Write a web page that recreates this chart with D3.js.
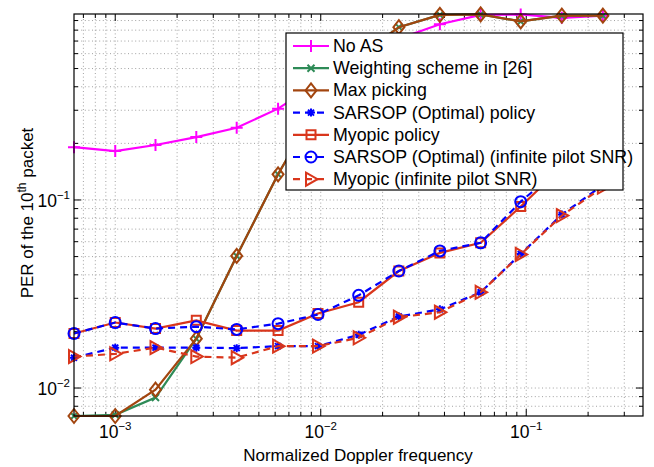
<!DOCTYPE html>
<html>
<head>
<meta charset="utf-8">
<script src="https://cdn.jsdelivr.net/npm/d3@7"></script>
<style>
  body { margin: 0; background: #fff; }
  text { font-family: "Liberation Sans", Arial, sans-serif; fill: #000; }
</style>
</head>
<body>
<div id="svg-container"></div>
<script>
// normalized Doppler frequency (x) and PER of the 10th packet for each scheme
var doppler = [0.00063, 0.001, 0.00157, 0.00248, 0.0039, 0.0062, 0.0097, 0.0153, 0.024, 0.038, 0.06, 0.094, 0.149, 0.236];

var noAS        = [0.191, 0.182, 0.196, 0.216, 0.242, 0.306, 0.42, 0.56, 0.72, 0.86, 0.965, 0.97, 0.93, 0.955];
var weighting   = [0.0071, 0.0072, 0.0089, 0.0183, 0.0504, 0.137, 0.32, 0.58, 0.83, 0.965, 0.97, 0.89, 0.955, 0.955];
var maxPicking  = [0.0071, 0.0071, 0.0098, 0.0183, 0.0504, 0.137, 0.32, 0.58, 0.83, 0.965, 0.97, 0.89, 0.955, 0.955];
var sarsop      = [0.0145, 0.0164, 0.0164, 0.0164, 0.0163, 0.0167, 0.0167, 0.0192, 0.024, 0.0262, 0.0323, 0.0516, 0.0836, 0.12];
var myopic      = [0.0195, 0.0223, 0.0207, 0.0229, 0.0202, 0.0202, 0.0249, 0.0286, 0.0419, 0.0523, 0.0592, 0.0923, 0.15, 0.21];
var sarsopInf   = [0.0195, 0.0223, 0.0207, 0.0212, 0.0205, 0.022, 0.0246, 0.0311, 0.0419, 0.0536, 0.0592, 0.098, 0.15, 0.21];
var myopicInf   = [0.0147, 0.0152, 0.0164, 0.0147, 0.0145, 0.0167, 0.0167, 0.0185, 0.0238, 0.0253, 0.0323, 0.0513, 0.0826, 0.117];

var seriesNames = ["No AS", "Weighting scheme in [26]", "Max picking", "SARSOP (Optimal) policy",
                   "Myopic policy", "SARSOP (Optimal) (infinite pilot SNR)", "Myopic (infinite pilot SNR)"];
var seriesValues = [noAS, weighting, maxPicking, sarsop, myopic, sarsopInf, myopicInf];

var xMajorTicks = [1e-3, 1e-2, 1e-1];
var xTickExp = ["\u22123", "\u22122", "\u22121"];
var yMajorTicks = [1e-2, 1e-1];
var yTickExp = ["\u22122", "\u22121"];

// look of each series (same order as seriesNames)
var styles = [
  {color: "#ff00ff", dash: null,  marker: "plus"},
  {color: "#2e8b57", dash: null,  marker: "cross"},
  {color: "#a2450f", dash: null,  marker: "diamond"},
  {color: "#0000ff", dash: "7,5", marker: "star"},
  {color: "#d9361c", dash: null,  marker: "square"},
  {color: "#0000ff", dash: "7,5", marker: "circle"},
  {color: "#d9361c", dash: "7,5", marker: "triangle"}
];

const W = 654, H = 467;
const margin = {top: 14, right: 11, bottom: 51, left: 74};

var svg = d3.select("#svg-container")
    .append("svg")
    .attr("width", W)
    .attr("height", H);

var x = d3.scaleLog().domain([0.00063, 0.37]).range([margin.left, W - margin.right]);
var y = d3.scaleLog().domain([0.0071, 0.975]).range([H - margin.bottom, margin.top]);

var x0 = margin.left, x1 = W - margin.right, y0 = H - margin.bottom, y1 = margin.top;

function minorTicks(scale) {
  var d = scale.domain(), out = [];
  for (var p = -5; p <= 1; p++) {
    for (var k = 1; k <= 9; k++) {
      var v = k * Math.pow(10, p);
      if (v > d[0] && v < d[1]) out.push(v);
    }
  }
  return out;
}
var xAll = minorTicks(x), yAll = minorTicks(y);

// dotted grid
var grid = svg.append("g").attr("stroke", "#8a8a8a").attr("stroke-width", 0.8).attr("stroke-dasharray", "1,2.6");
grid.selectAll(".gx").data(xAll).enter().append("line")
    .attr("x1", d => x(d)).attr("x2", d => x(d)).attr("y1", y0).attr("y2", y1);
grid.selectAll(".gy").data(yAll).enter().append("line")
    .attr("y1", d => y(d)).attr("y2", d => y(d)).attr("x1", x0).attr("x2", x1);

// ticks (inside, all four sides)
var ticks = svg.append("g").attr("stroke", "#000").attr("stroke-width", 1);
xAll.forEach(function(v) {
  var len = xMajorTicks.indexOf(v) >= 0 ? 7 : 4;
  ticks.append("line").attr("x1", x(v)).attr("x2", x(v)).attr("y1", y0).attr("y2", y0 - len);
  ticks.append("line").attr("x1", x(v)).attr("x2", x(v)).attr("y1", y1).attr("y2", y1 + len);
});
yAll.forEach(function(v) {
  var len = yMajorTicks.indexOf(v) >= 0 ? 7 : 4;
  ticks.append("line").attr("y1", y(v)).attr("y2", y(v)).attr("x1", x0).attr("x2", x0 + len);
  ticks.append("line").attr("y1", y(v)).attr("y2", y(v)).attr("x1", x1).attr("x2", x1 - len);
});

// tick labels
xMajorTicks.forEach(function(v, i) {
  var t = svg.append("text").attr("x", x(v)).attr("y", 438).attr("text-anchor", "middle").style("font-size", "17.5px");
  t.append("tspan").text("10");
  t.append("tspan").attr("dy", -8).style("font-size", "11.5px").text(xTickExp[i]);
});
yMajorTicks.forEach(function(v, i) {
  var t = svg.append("text").attr("x", 70).attr("y", y(v) + 7).attr("text-anchor", "end").style("font-size", "17.5px");
  t.append("tspan").text("10");
  t.append("tspan").attr("dy", -8).style("font-size", "11.5px").text(yTickExp[i]);
});

// axis titles
svg.append("text").attr("x", 358).attr("y", 461).attr("text-anchor", "middle")
    .style("font-size", "17px").text("Normalized Doppler frequency");
var yl = svg.append("text").attr("transform", "translate(33,213) rotate(-90)")
    .attr("text-anchor", "middle").style("font-size", "17px");
yl.append("tspan").text("PER of the 10");
yl.append("tspan").attr("dy", -7).style("font-size", "12px").text("th");
yl.append("tspan").attr("dy", 7).text(" packet");

function markerPath(type) {
  switch (type) {
    case "plus": return "M-6,0L6,0M0,-6L0,6";
    case "cross": return "M-3.5,-3.5L3.5,3.5M-3.5,3.5L3.5,-3.5";
    case "diamond": return "M0,-7L5.5,0L0,7L-5.5,0Z";
    case "star": return "M-4,0L4,0M0,-4L0,4M-3,-3L3,3M-3,3L3,-3";
    case "square": return "M-4.5,-4.5L4.5,-4.5L4.5,4.5L-4.5,4.5Z";
    case "circle": return "M5.5,0A5.5,5.5 0 1,1 -5.5,0A5.5,5.5 0 1,1 5.5,0Z";
    case "triangle": return "M-5,-6.5L6.5,0L-5,6.5Z";
  }
}

var line = d3.line().x(d => x(d[0])).y(d => y(d[1]));

seriesValues.forEach(function(vals, i) {
  var st = styles[i];
  var pts = doppler.map((d, j) => [d, vals[j]]);
  var g = svg.append("g");
  g.append("path").datum(pts)
      .attr("d", line)
      .attr("fill", "none")
      .attr("stroke", st.color)
      .attr("stroke-width", 2.2)
      .attr("stroke-dasharray", st.dash);
  g.selectAll(".m").data(pts).enter().append("path")
      .attr("transform", d => "translate(" + x(d[0]) + "," + y(d[1]) + ")")
      .attr("d", markerPath(st.marker))
      .attr("fill", "none")
      .attr("stroke", st.color)
      .attr("stroke-width", 2);
});

// axes box
svg.append("rect").attr("x", x0).attr("y", y1).attr("width", x1 - x0).attr("height", y0 - y1)
    .attr("fill", "none").attr("stroke", "#000").attr("stroke-width", 1.2);

// legend
var lg = svg.append("g").attr("transform", "translate(286,33)");
lg.append("rect").attr("width", 337).attr("height", 157)
    .attr("fill", "#fff").attr("stroke", "#000").attr("stroke-width", 1.2);
seriesNames.forEach(function(name, i) {
  var st = styles[i];
  var ly = 13 + i * 22.2;
  lg.append("line").attr("x1", 7).attr("x2", 43).attr("y1", ly).attr("y2", ly)
      .attr("stroke", st.color).attr("stroke-width", 2.2).attr("stroke-dasharray", st.dash);
  lg.append("path").attr("transform", "translate(25," + ly + ")")
      .attr("d", markerPath(st.marker)).attr("fill", "none")
      .attr("stroke", st.color).attr("stroke-width", 2);
  lg.append("text").attr("x", 47).attr("y", ly + 6).style("font-size", "17.8px").text(name);
});
</script>
</body>
</html>
